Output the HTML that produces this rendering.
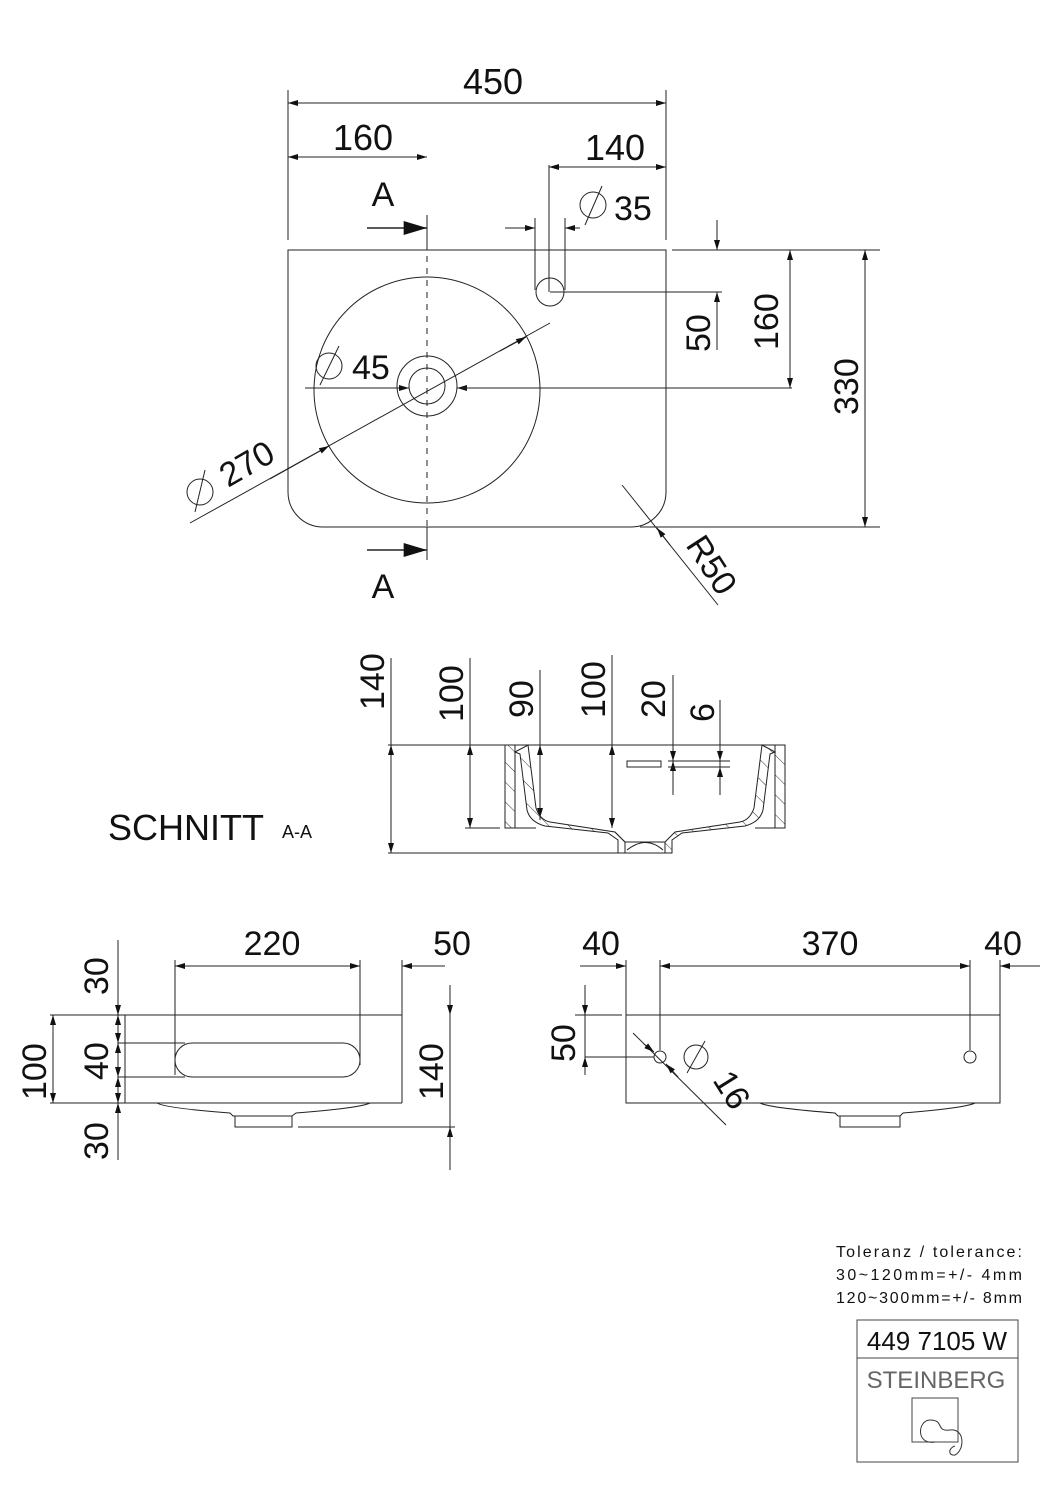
<!DOCTYPE html>
<html><head><meta charset="utf-8"><style>
html,body{margin:0;padding:0;background:#fff}
svg{display:block}
text{font-family:"Liberation Sans",sans-serif;fill:#111}
</style></head><body>
<svg width="1060" height="1500" viewBox="0 0 1060 1500" xmlns="http://www.w3.org/2000/svg">
<defs>
<marker id="a" viewBox="0 0 10 6" refX="10" refY="3" markerWidth="14" markerHeight="6" orient="auto-start-reverse" markerUnits="userSpaceOnUse"><path d="M0,0L10,3L0,6z" fill="#111"/></marker>
<marker id="b" viewBox="0 0 10 6" refX="10" refY="3" markerWidth="28" markerHeight="14" orient="auto-start-reverse" markerUnits="userSpaceOnUse"><path d="M0,0L10,3L0,6z" fill="#111"/></marker>
<pattern id="h" width="14" height="14" patternUnits="userSpaceOnUse" patternTransform="rotate(-45)"><line x1="0" y1="0" x2="0" y2="14" stroke="#333" stroke-width="1"/></pattern>
</defs>
<g stroke="#222" stroke-width="1" fill="none">
<line x1="288" y1="90" x2="288" y2="240"/><line x1="666" y1="90" x2="666" y2="240"/>
<line x1="288" y1="103" x2="666" y2="103" marker-start="url(#a)" marker-end="url(#a)"/>
<line x1="288" y1="157" x2="427" y2="157" marker-start="url(#a)" marker-end="url(#a)"/>
<line x1="549" y1="167" x2="666" y2="167" marker-start="url(#a)" marker-end="url(#a)"/>
<line x1="549" y1="165" x2="549" y2="292"/>
<line x1="427" y1="215" x2="427" y2="560"/>
<line x1="427" y1="250" x2="427" y2="527" stroke="#fff" stroke-width="2" stroke-dasharray="6 6"/>
<line x1="367" y1="228" x2="427" y2="228" stroke-width="1.5" marker-end="url(#b)"/>
<line x1="367" y1="550" x2="427" y2="550" stroke-width="1.5" marker-end="url(#b)"/>
<path d="M288,250H666V492A35,35 0 0 1 631,527H323A35,35 0 0 1 288,492Z"/>
<line x1="672" y1="250" x2="880" y2="250"/>
<line x1="640" y1="527" x2="880" y2="527"/>
<line x1="505" y1="228" x2="535" y2="228" marker-end="url(#a)"/>
<line x1="580" y1="228" x2="565" y2="228" marker-end="url(#a)"/>
<line x1="535" y1="218" x2="535" y2="290"/><line x1="565" y1="218" x2="565" y2="290"/>
<circle cx="550" cy="292" r="14"/>
<line x1="550" y1="292" x2="722" y2="292"/>
<line x1="717" y1="220" x2="717" y2="250" marker-end="url(#a)"/>
<line x1="717" y1="350" x2="717" y2="292" marker-end="url(#a)"/>
<circle cx="427" cy="390" r="113"/>
<circle cx="427" cy="386" r="30"/><circle cx="427" cy="386" r="18"/>
<line x1="305" y1="388" x2="397" y2="388"/>
<line x1="397" y1="388" x2="409" y2="388" marker-end="url(#a)"/>
<line x1="470" y1="388" x2="457" y2="388" marker-end="url(#a)"/>
<line x1="457" y1="388" x2="792" y2="388"/>
<line x1="790" y1="250" x2="790" y2="388" marker-start="url(#a)" marker-end="url(#a)"/>
<line x1="865" y1="250" x2="865" y2="527" marker-start="url(#a)" marker-end="url(#a)"/>
<line x1="190" y1="523" x2="550" y2="323"/>
<line x1="270" y1="479" x2="329" y2="446" marker-end="url(#a)"/>
<line x1="500" y1="351" x2="526" y2="337" marker-end="url(#a)"/>
<line x1="622" y1="485" x2="718" y2="605"/>
<line x1="670" y1="545" x2="657" y2="528" marker-end="url(#a)"/>
<circle cx="329" cy="366" r="13"/><line x1="320" y1="385" x2="339" y2="346"/>
<circle cx="593" cy="205" r="13"/><line x1="585" y1="225" x2="602" y2="186"/>
<circle cx="200" cy="492" r="13"/><line x1="195" y1="512" x2="205" y2="470"/>
</g>
<g font-size="36">
<text x="493" y="94" text-anchor="middle">450</text>
<text x="363" y="150" text-anchor="middle">160</text>
<text x="615" y="160" text-anchor="middle">140</text>
<text x="614" y="220" font-size="34">35</text>
<text x="352" y="379" font-size="34">45</text>
<text x="383" y="206" text-anchor="middle" font-size="34">A</text>
<text x="383" y="598" text-anchor="middle" font-size="34">A</text>
<text transform="translate(710,352) rotate(-90)" font-size="34">50</text>
<text transform="translate(778,350) rotate(-90)" font-size="34">160</text>
<text transform="translate(858,415) rotate(-90)" font-size="34">330</text>
<text transform="translate(228,488) rotate(-30)" font-size="34">270</text>
<text transform="translate(685,545) rotate(57)" font-size="34">R50</text>
</g>
<g stroke="#222" stroke-width="1" fill="none">
<line x1="388" y1="745" x2="785" y2="745"/>
<line x1="388" y1="853" x2="672" y2="853"/>
<line x1="465" y1="828" x2="500" y2="828"/>
<line x1="391" y1="658" x2="391" y2="853"/>
<line x1="391" y1="745" x2="391" y2="853" marker-start="url(#a)" marker-end="url(#a)"/>
<line x1="470" y1="658" x2="470" y2="828"/>
<line x1="470" y1="745" x2="470" y2="828" marker-start="url(#a)" marker-end="url(#a)"/>
<line x1="540" y1="670" x2="540" y2="820"/>
<line x1="540" y1="745" x2="540" y2="818" marker-start="url(#a)" marker-end="url(#a)"/>
<line x1="612" y1="655" x2="612" y2="828"/>
<line x1="612" y1="745" x2="612" y2="828" marker-start="url(#a)" marker-end="url(#a)"/>
<line x1="673" y1="675" x2="673" y2="795"/>
<line x1="673" y1="730" x2="673" y2="761" marker-end="url(#a)"/>
<line x1="673" y1="780" x2="673" y2="761" marker-end="url(#a)"/>
<line x1="720" y1="700" x2="720" y2="795"/>
<line x1="720" y1="730" x2="720" y2="761" marker-end="url(#a)"/>
<line x1="720" y1="780" x2="720" y2="767" marker-end="url(#a)"/>
<line x1="668" y1="761" x2="730" y2="761"/><line x1="668" y1="767" x2="730" y2="767"/>
<rect x="627" y="761" width="34" height="6"/>
<path d="M505,745H515V828H505Z" fill="url(#h)"/>
<path d="M775,745H785V828H775Z" fill="url(#h)"/>
<path d="M515,752L528,745L536,808Q540,820 550,822L615,832L625,842V853H618V840L608,833L545,826Q530,822 527,810L520,754Z" fill="url(#h)"/>
<path d="M775,752L762,745L754,808Q750,820 740,822L675,832L665,842V853H672V840L682,833L745,826Q760,822 763,810L770,754Z" fill="url(#h)"/>
<path d="M505,745V828H536M775,745V828H755"/>
<path d="M627,850Q646,835 663,850" />
<line x1="625" y1="842" x2="665" y2="842"/>
</g>
<g font-size="34">
<text transform="translate(384,710) rotate(-90)">140</text>
<text transform="translate(463,722) rotate(-90)">100</text>
<text transform="translate(533,718) rotate(-90)">90</text>
<text transform="translate(605,718) rotate(-90)">100</text>
<text transform="translate(665,718) rotate(-90)">20</text>
<text transform="translate(714,722) rotate(-90)">6</text>
<text x="108" y="840" font-size="36">SCHNITT</text>
<text x="282" y="838" font-size="18">A-A</text>
</g>
<g stroke="#222" stroke-width="1" fill="none">
<line x1="50" y1="1015" x2="402" y2="1015"/>
<line x1="50" y1="1103" x2="402" y2="1103"/>
<line x1="402" y1="1015" x2="402" y2="1103"/>
<line x1="125" y1="1015" x2="125" y2="1103"/>
<line x1="175" y1="960" x2="175" y2="1075"/>
<line x1="360" y1="960" x2="360" y2="1065"/>
<line x1="402" y1="960" x2="402" y2="1015"/>
<line x1="175" y1="966" x2="360" y2="966" marker-start="url(#a)" marker-end="url(#a)"/>
<line x1="445" y1="966" x2="402" y2="966" marker-end="url(#a)"/>
<rect x="175" y="1043" width="185" height="34" rx="17"/>
<line x1="118" y1="1043" x2="185" y2="1043"/><line x1="118" y1="1077" x2="185" y2="1077"/>
<line x1="118" y1="940" x2="118" y2="1160"/>
<line x1="118" y1="995" x2="118" y2="1015" marker-end="url(#a)"/>
<line x1="118" y1="1015" x2="118" y2="1043" marker-start="url(#a)" marker-end="url(#a)"/>
<line x1="118" y1="1043" x2="118" y2="1077" marker-start="url(#a)" marker-end="url(#a)"/>
<line x1="118" y1="1077" x2="118" y2="1103" marker-start="url(#a)" marker-end="url(#a)"/>
<line x1="118" y1="1125" x2="118" y2="1103" marker-end="url(#a)"/>
<line x1="53" y1="1015" x2="53" y2="1103" marker-start="url(#a)" marker-end="url(#a)"/>
<line x1="450" y1="985" x2="450" y2="1155"/>
<line x1="450" y1="995" x2="450" y2="1015" marker-end="url(#a)"/>
<line x1="450" y1="1170" x2="450" y2="1127" marker-end="url(#a)"/>
<line x1="298" y1="1127" x2="455" y2="1127"/>
<path d="M157,1103Q165,1108 230,1113L233,1116H292L296,1113Q360,1108 370,1103"/>
<rect x="235" y="1116" width="57" height="11"/>
</g>
<g font-size="34">
<text x="272" y="955" text-anchor="middle">220</text>
<text x="452" y="955" text-anchor="middle">50</text>
<text transform="translate(108,995) rotate(-90)">30</text>
<text transform="translate(46,1100) rotate(-90)">100</text>
<text transform="translate(108,1080) rotate(-90)">40</text>
<text transform="translate(108,1160) rotate(-90)">30</text>
<text transform="translate(443,1100) rotate(-90)">140</text>
</g>
<g stroke="#222" stroke-width="1" fill="none">
<rect x="626" y="1015" width="374" height="88"/>
<line x1="575" y1="1015" x2="622" y2="1015"/>
<line x1="626" y1="960" x2="626" y2="1015"/>
<line x1="660" y1="960" x2="660" y2="1050"/>
<line x1="970" y1="960" x2="970" y2="1050"/>
<line x1="1000" y1="960" x2="1000" y2="1015"/>
<line x1="580" y1="966" x2="626" y2="966" marker-end="url(#a)"/>
<line x1="660" y1="966" x2="970" y2="966" marker-start="url(#a)" marker-end="url(#a)"/>
<line x1="1040" y1="966" x2="1000" y2="966" marker-end="url(#a)"/>
<circle cx="660" cy="1057" r="6"/><circle cx="970" cy="1057" r="6"/>
<line x1="585" y1="1057" x2="654" y2="1057"/>
<line x1="585" y1="985" x2="585" y2="1075"/>
<line x1="585" y1="995" x2="585" y2="1015" marker-end="url(#a)"/>
<line x1="585" y1="1075" x2="585" y2="1057" marker-end="url(#a)"/>
<line x1="633" y1="1033" x2="726" y2="1125"/>
<line x1="644" y1="1044" x2="654" y2="1052" marker-end="url(#a)"/>
<line x1="678" y1="1077" x2="666" y2="1064" marker-end="url(#a)"/>
<circle cx="696" cy="1057" r="12"/><line x1="687" y1="1073" x2="705" y2="1041"/>
<path d="M760,1103Q770,1108 835,1113L838,1116H900L903,1113Q965,1108 975,1103"/>
<rect x="840" y="1116" width="60" height="11"/>
</g>
<g font-size="34">
<text x="601" y="955" text-anchor="middle">40</text>
<text x="830" y="955" text-anchor="middle">370</text>
<text x="1003" y="955" text-anchor="middle">40</text>
<text transform="translate(575,1062) rotate(-90)">50</text>
<text transform="translate(712,1080) rotate(58)">16</text>
</g>
<g font-size="16">
<text x="836" y="1257" textLength="186">Toleranz  /  tolerance:</text>
<text x="836" y="1280" textLength="186">30~120mm=+/-    4mm</text>
<text x="836" y="1303" textLength="186">120~300mm=+/- 8mm</text>
</g>
<g stroke="#444" stroke-width="1" fill="none">
<rect x="857" y="1320" width="161" height="142"/>
<line x1="857" y1="1358" x2="1018" y2="1358"/>
<rect x="912" y="1398" width="46" height="44"/>
<path d="M935,1442C915,1445 918,1420 930,1420C945,1420 935,1432 950,1430C965,1428 965,1450 955,1455C948,1456 948,1448 955,1446" stroke="#333"/>
</g>
<text x="937" y="1350" text-anchor="middle" font-size="26">449 7105 W</text>
<text x="936" y="1388" text-anchor="middle" font-size="24" style="fill:#666">STEINBERG</text>
</svg>
</body></html>
